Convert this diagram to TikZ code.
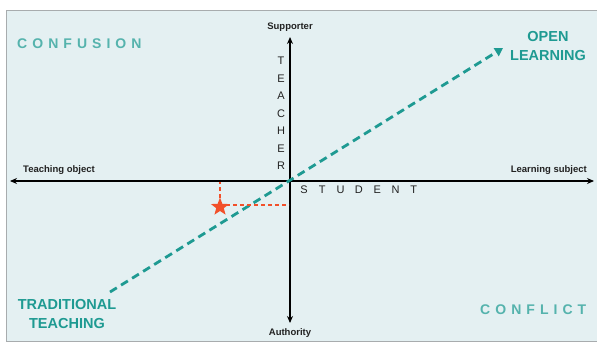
\documentclass[tikz,border=0pt]{standalone}
\usepackage{fontspec}
\setmainfont{Liberation Sans}
\usetikzlibrary{arrows.meta,shapes.geometric}
\definecolor{bg}{HTML}{E4F0F2}
\definecolor{frame}{HTML}{A8ACAE}
\definecolor{tealdark}{HTML}{1E9A92}
\definecolor{teallight}{HTML}{55B3AD}
\definecolor{redstar}{HTML}{F2502A}
\definecolor{axistext}{HTML}{222222}
\tikzset{
  axis/.style={line width=1.2pt, black, -{Stealth[length=7pt,width=6pt]}},
  smalllabel/.style={font=\fontsize{9.5}{11}\selectfont\bfseries, text=axistext, inner sep=0pt},
  letter/.style={font=\fontsize{11}{12}\selectfont, text=axistext, inner sep=0pt},
  quadrant/.style={font=\fontsize{14}{16}\selectfont\bfseries\addfontfeature{LetterSpace=36}, text=teallight, inner sep=0pt},
  endlabel/.style={font=\fontsize{14.5}{18.5}\selectfont\bfseries, text=tealdark, align=center, inner sep=0pt},
  pathline/.style={tealdark, line width=2.8pt, dash pattern=on 8pt off 5pt, -{Triangle[length=8pt,width=9pt]}},
  guide/.style={redstar, line width=1.8pt, dash pattern=on 4pt off 3pt},
}
\begin{document}
\begin{tikzpicture}[x=1pt,y=-1pt]
\useasboundingbox (0,0) rectangle (597,345);
\fill[bg] (6,11) rectangle (597,341);
\draw[frame, line width=1pt] (597,11) -- (6,11) -- (6,341) -- (597,341);

% axes
\coordinate (O) at (290,181);
\coordinate (L) at (10,181);
\coordinate (R) at (594,181);
\coordinate (T) at (290,37);
\coordinate (B) at (290,323);
\draw[axis] (O) -- (L);
\draw[axis] (O) -- (R);
\draw[axis] (O) -- (T);
\draw[axis] (O) -- (B);

% axis labels
\node[smalllabel] (sup) at (290,27) {Supporter};
\node[smalllabel] (auth) at (290,333) {Authority};
\node[smalllabel, anchor=west] (tobj) at (23,170) {Teaching object};
\node[smalllabel, anchor=east] (lsub) at (587,170) {Learning subject};

% TEACHER
\foreach \l [count=\i from 0] in {T,E,A,C,H,E,R}
  \node[letter] (teacher\i) at (281,{61+17.5*\i}) {\l};
% STUDENT
\foreach \l [count=\i from 0] in {S,T,U,D,E,N,T}
  \node[letter] (student\i) at ({304+18.3*\i},190) {\l};

% quadrant labels
\node[quadrant, anchor=west] (confusion) at (17,44) {CONFUSION};
\node[quadrant, anchor=west] (conflict) at (480,310) {CONFLICT};
\node[endlabel] (open) at (548,46) {OPEN\\LEARNING};
\node[endlabel] (trad) at (67,314) {TRADITIONAL\\TEACHING};

% development line
\coordinate (tt) at (110,292);
\coordinate (ol) at (503,48);
\draw[pathline] (tt) -- (ol);

% star and guides
\coordinate (sx) at (220,182);
\coordinate (sy) at (289,205);
\coordinate (sh) at (226,205);
\draw[guide] (220,205) -- (sx);
\draw[guide] (sh) -- (sy);
\node[star, star points=5, star point ratio=2.4, fill=redstar, minimum size=19pt, inner sep=0pt] (st) at (220,207) {};
\end{tikzpicture}
\end{document}
